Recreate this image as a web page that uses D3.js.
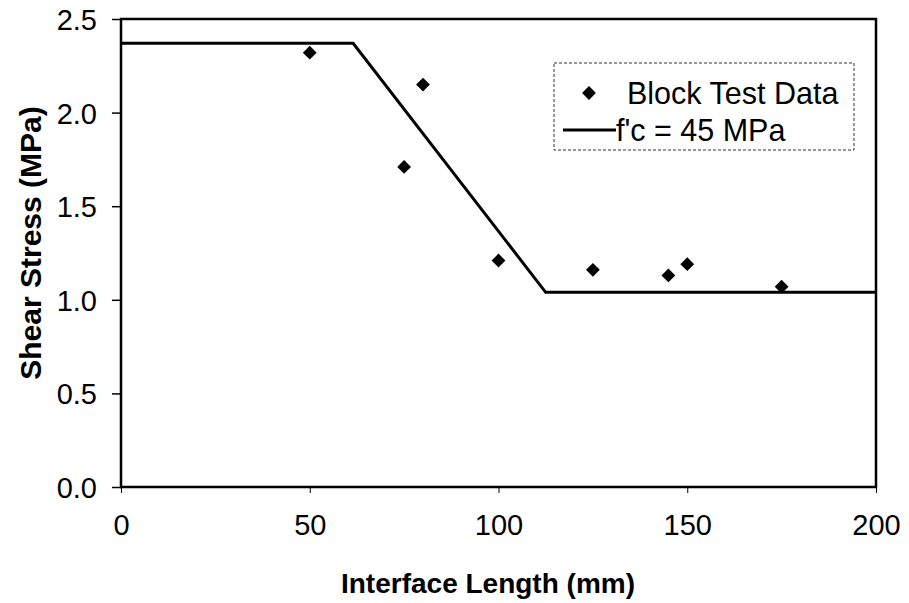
<!DOCTYPE html>
<html lang="en">
<head>
    <meta charset="UTF-8">
    <title>Shear Stress vs Interface Length</title>
    <script src="https://d3js.org/d3.v7.min.js"></script>
    <style>
        body { margin: 0; background: #fff; }
        text { font-family: "Liberation Sans", Arial, sans-serif; fill: #000; }
    </style>
</head>
<body>
    <div id="chart"></div>

    <script>
        // Block test data points
        var testLength = [50, 75, 80, 100, 125, 145, 150, 175];
        var testStress = [2.32, 1.71, 2.15, 1.21, 1.16, 1.13, 1.19, 1.07];

        // Model line, f'c = 45 MPa
        var modelLength = [0, 61.5, 112.5, 200];
        var modelStress = [2.37, 2.37, 1.04, 1.04];

        var xTicks = [0, 50, 100, 150, 200];
        var yTicks = [0, 0.5, 1.0, 1.5, 2.0, 2.5];

        var svg = d3.select("#chart")
            .append("svg")
            .attr("width", 909)
            .attr("height", 603);

        var margin = { top: 19, right: 33, bottom: 116, left: 121 };
        var width = 909 - margin.left - margin.right;
        var height = 603 - margin.top - margin.bottom;

        var x = d3.scaleLinear().domain([0, 200]).range([0, width]);
        var y = d3.scaleLinear().domain([0, 2.5]).range([height, 0]);

        var g = svg.append("g")
            .attr("transform", "translate(" + margin.left + "," + margin.top + ")");

        // x axis
        var xAxis = g.append("g")
            .attr("transform", "translate(0," + height + ")")
            .call(d3.axisBottom(x).tickValues(xTicks).tickSize(6).tickPadding(21).tickFormat(d3.format("d")));
        xAxis.select(".domain").remove();
        xAxis.selectAll("line").attr("stroke", "#000").attr("stroke-width", 1);
        xAxis.selectAll("text").style("font-size", "29px");

        // y axis
        var yAxis = g.append("g")
            .call(d3.axisLeft(y).tickValues(yTicks).tickSize(9).tickPadding(15).tickFormat(d3.format(".1f")));
        yAxis.select(".domain").remove();
        yAxis.selectAll("line").attr("stroke", "#000").attr("stroke-width", 1.5);
        yAxis.selectAll("text").style("font-size", "29px").attr("dy", "0.36em");

        // plot frame
        g.append("rect")
            .attr("x", 0)
            .attr("y", 0)
            .attr("width", width)
            .attr("height", height)
            .attr("fill", "none")
            .attr("stroke", "#000")
            .attr("stroke-width", 2.5);

        // model line
        var line = d3.line()
            .x(function(d, i) { return x(modelLength[i]); })
            .y(function(d, i) { return y(modelStress[i]); });

        g.append("path")
            .datum(modelLength)
            .attr("d", line)
            .attr("fill", "none")
            .attr("stroke", "#000")
            .attr("stroke-width", 3);

        // test data diamonds
        var diamond = d3.symbol().type(d3.symbolSquare).size(95);
        g.selectAll(".pt")
            .data(testLength)
            .enter().append("path")
            .attr("class", "pt")
            .attr("d", diamond)
            .attr("transform", function(d, i) {
                return "translate(" + x(d) + "," + y(testStress[i]) + ") rotate(45)";
            })
            .attr("fill", "#000");

        // axis titles
        svg.append("text")
            .attr("x", 488)
            .attr("y", 593)
            .attr("text-anchor", "middle")
            .style("font-size", "28px")
            .style("font-weight", "bold")
            .text("Interface Length (mm)");

        svg.append("text")
            .attr("transform", "translate(41,243) rotate(-90)")
            .attr("text-anchor", "middle")
            .style("font-size", "30px")
            .style("font-weight", "bold")
            .text("Shear Stress (MPa)");

        // legend
        var legend = svg.append("g")
            .attr("transform", "translate(554,63)");

        legend.append("rect")
            .attr("width", 300)
            .attr("height", 87)
            .attr("fill", "#fff")
            .attr("stroke", "#333")
            .attr("stroke-width", 1)
            .attr("stroke-dasharray", "3,2");

        legend.append("path")
            .attr("d", diamond)
            .attr("transform", "translate(35,30) rotate(45)")
            .attr("fill", "#000");

        legend.append("text")
            .attr("x", 73)
            .attr("y", 41)
            .style("font-size", "30.5px")
            .text("Block Test Data");

        legend.append("line")
            .attr("x1", 9)
            .attr("x2", 62)
            .attr("y1", 67)
            .attr("y2", 67)
            .attr("stroke", "#000")
            .attr("stroke-width", 3);

        legend.append("text")
            .attr("x", 62)
            .attr("y", 78)
            .style("font-size", "30.5px")
            .text("f'c = 45 MPa");
    </script>
</body>
</html>
